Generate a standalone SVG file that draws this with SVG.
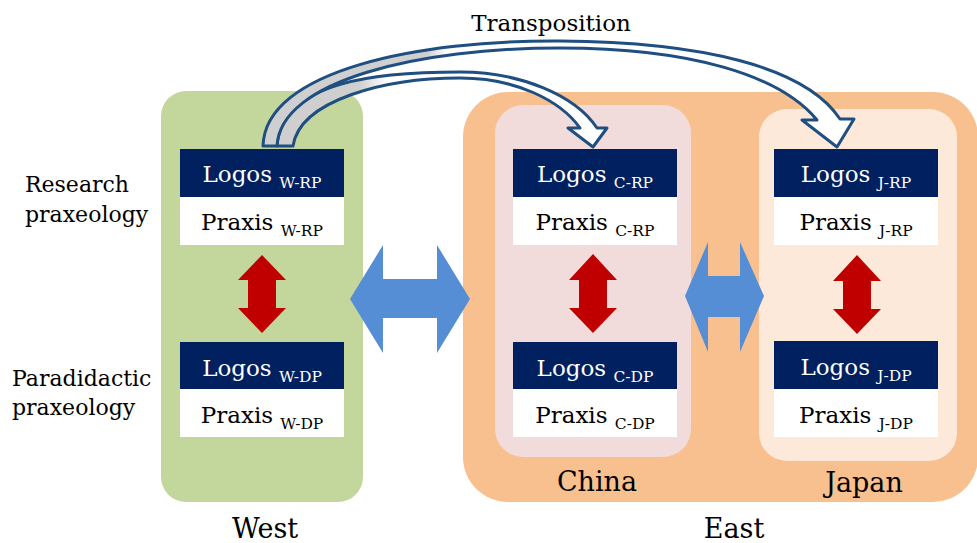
<svg xmlns="http://www.w3.org/2000/svg" width="977" height="543" viewBox="0 0 977 543">
<defs>
<style>
.t{font-family:"DejaVu Serif","Liberation Serif",serif;fill:#000}
.w{fill:#fff}
.lbl{font-size:22px}
.main{font-size:23px;text-anchor:middle}
.sub{font-size:15.5px}
.big{font-size:27px;text-anchor:middle}
.logo{fill:#002060}
.prax{fill:#fff}
.red{fill:#C00000}
.blue{fill:#558ED5}
.ta{stroke:#1F4E80;stroke-width:3;stroke-linejoin:round}
</style>
<linearGradient id="gOut" gradientUnits="userSpaceOnUse" x1="263" y1="0" x2="560" y2="0">
<stop offset="0" stop-color="#CFCFCF"/><stop offset="0.55" stop-color="#CFCFCF"/><stop offset="0.62" stop-color="#FFFFFF"/><stop offset="1" stop-color="#FFFFFF"/>
</linearGradient>
<linearGradient id="gIn" gradientUnits="userSpaceOnUse" x1="277" y1="0" x2="460" y2="0">
<stop offset="0" stop-color="#CFCFCF"/><stop offset="0.45" stop-color="#CFCFCF"/><stop offset="0.6" stop-color="#FFFFFF"/><stop offset="1" stop-color="#FFFFFF"/>
</linearGradient>
</defs>
<rect width="977" height="543" fill="#fff"/>

<g id="west">
<rect x="161" y="91" width="202" height="411" rx="25" fill="#C3D69B"/>
<text class="t big" x="265" y="538">West</text>
</g>
<g id="east">
<rect x="463" y="92" width="515" height="410" rx="45" fill="#F9C08F"/>
<text class="t big" x="734" y="538">East</text>
</g>
<g id="china">
<rect x="495" y="105" width="196" height="352" rx="28" fill="#F2DCDB"/>
<text class="t big" x="597" y="491">China</text>
</g>
<g id="japan">
<rect x="759" y="109" width="198" height="352" rx="28" fill="#FDE9D9"/>
<text class="t big" x="864" y="492">Japan</text>
</g>

<g id="labels">
<text class="t lbl" x="25" y="192">Research</text>
<text class="t lbl" x="25" y="222">praxeology</text>
<text class="t lbl" x="12" y="386">Paradidactic</text>
<text class="t lbl" x="12" y="415">praxeology</text>
<text class="t" x="551" y="31" font-size="23" text-anchor="middle">Transposition</text>
</g>

<g id="w-rp">
<rect class="logo" x="180" y="149" width="164" height="48"/>
<rect class="prax" x="180" y="197" width="164" height="48"/>
<text class="t w main" x="262" y="182">Logos <tspan class="sub" dy="6">W-RP</tspan></text>
<text class="t main" x="262" y="230">Praxis <tspan class="sub" dy="6">W-RP</tspan></text>
</g>
<g id="w-dp">
<rect class="logo" x="180" y="342" width="164" height="47"/>
<rect class="prax" x="180" y="389" width="164" height="48"/>
<text class="t w main" x="262" y="376">Logos <tspan class="sub" dy="6">W-DP</tspan></text>
<text class="t main" x="262" y="423">Praxis <tspan class="sub" dy="6">W-DP</tspan></text>
</g>
<g id="c-rp">
<rect class="logo" x="513" y="149" width="164" height="48"/>
<rect class="prax" x="513" y="197" width="164" height="48"/>
<text class="t w main" x="595" y="182">Logos <tspan class="sub" dy="6">C-RP</tspan></text>
<text class="t main" x="595" y="230">Praxis <tspan class="sub" dy="6">C-RP</tspan></text>
</g>
<g id="c-dp">
<rect class="logo" x="513" y="342" width="164" height="47"/>
<rect class="prax" x="513" y="389" width="164" height="48"/>
<text class="t w main" x="595" y="376">Logos <tspan class="sub" dy="6">C-DP</tspan></text>
<text class="t main" x="595" y="423">Praxis <tspan class="sub" dy="6">C-DP</tspan></text>
</g>
<g id="j-rp">
<rect class="logo" x="774" y="149" width="164" height="48"/>
<rect class="prax" x="774" y="197" width="164" height="48"/>
<text class="t w main" x="856" y="182">Logos <tspan class="sub" dy="6">J-RP</tspan></text>
<text class="t main" x="856" y="230">Praxis <tspan class="sub" dy="6">J-RP</tspan></text>
</g>
<g id="j-dp">
<rect class="logo" x="774" y="341" width="164" height="48"/>
<rect class="prax" x="774" y="389" width="164" height="48"/>
<text class="t w main" x="856" y="375">Logos <tspan class="sub" dy="6">J-DP</tspan></text>
<text class="t main" x="856" y="423">Praxis <tspan class="sub" dy="6">J-DP</tspan></text>
</g>

<g id="connectors">
<polygon class="red" points="262,255 286,280 276,280 276,308 286,308 262,333 238,308 248,308 248,280 238,280"/>
<polygon class="red" points="593,254 617,280 607,280 607,308 617,308 593,333 569,308 579,308 579,280 569,280"/>
<polygon class="red" points="857,255 881,281 871,281 871,309 881,309 857,334 833,309 843,309 843,281 833,281"/>
<polygon class="blue" points="350,299 383,245 383,279 437,279 437,245 470,299 437,353 437,318 383,318 383,353"/>
<polygon class="blue" points="685,296 708,242 708,276 740,276 740,242 764,296 740,352 740,317 708,317 708,352"/>
<path class="ta" fill="url(#gIn)" d="M277,146 C282,80 380,72 460,72 C520,72 575,95 597,128 L607,128 L593,147 L568,128 L580,128 C560,100 515,78 460,78 C385,78 300,100 293,146 Z"/>
<path class="ta" fill="url(#gOut)" d="M263,146 C265,70 420,40 560,41 C700,42 805,66 840,119 L854,119 L837,147 L802,120 L817,120 C780,75 690,48 560,48 C420,48 280,80 277,146 Z"/>
</g>
</svg>
